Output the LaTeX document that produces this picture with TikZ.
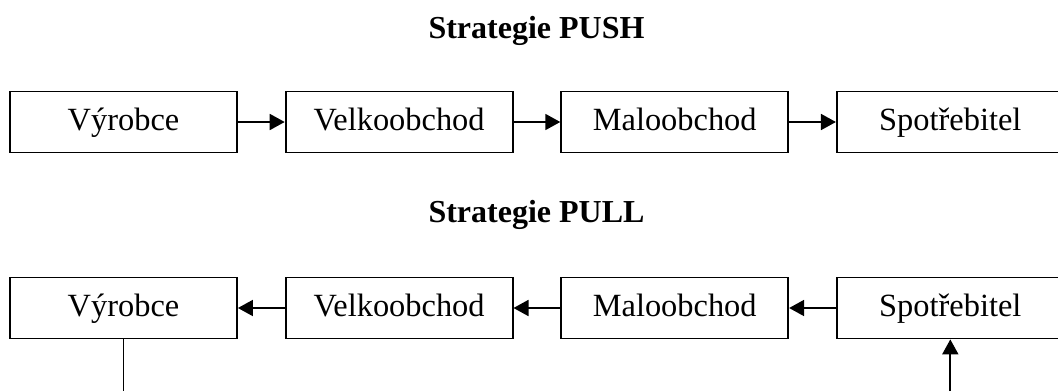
\documentclass[tikz,border=0pt]{standalone}
\usepackage{fontspec}
\setmainfont{Liberation Serif}
\usetikzlibrary{arrows.meta, positioning}
\tikzstyle{arrow} = [line width=0.9pt, -{Triangle[length=7.5pt,width=8pt]}]
\tikzstyle{stage} = [rectangle, minimum width=113.5pt, minimum height=30.5pt, text height=12pt, text depth=4pt, text centered, draw=black, line width=0.9pt, font=\fontsize{16.2}{19}\selectfont]
\tikzstyle{heading} = [font=\fontsize{16}{19}\selectfont\bfseries, anchor=base]

\begin{document}
\begin{tikzpicture}[x=0.5pt, y=-0.5pt, node distance=23.4pt]
    \useasboundingbox (0,0) rectangle (1058,391);

    % Strategie PUSH
    \node[heading] (push) at (536.5,38) {Strategie PUSH};
    \node[stage] (vyr1) at (123.5,122) {Výrobce};
    \node[stage, right=of vyr1] (velk1) {Velkoobchod};
    \node[stage, right=of velk1] (malo1) {Maloobchod};
    \node[stage, right=of malo1] (spot1) {Spotřebitel};

    \draw[arrow] (vyr1) -- (velk1);
    \draw[arrow] (velk1) -- (malo1);
    \draw[arrow] (malo1) -- (spot1);

    % Strategie PULL
    \node[heading] (pull) at (536.5,222) {Strategie PULL};
    \node[stage] (vyr2) at (123.5,308) {Výrobce};
    \node[stage, right=of vyr2] (velk2) {Velkoobchod};
    \node[stage, right=of velk2] (malo2) {Maloobchod};
    \node[stage, right=of malo2] (spot2) {Spotřebitel};

    \draw[arrow] (spot2) -- (malo2);
    \draw[arrow] (malo2) -- (velk2);
    \draw[arrow] (velk2) -- (vyr2);

    % Lines leaving the picture
    \coordinate (down) at (vyr2.south |- 0,391);
    \coordinate (up) at (spot2.south |- 0,391);
    \draw[line width=0.9pt] (vyr2) -- (down);
    \draw[arrow] (up) -- (spot2);

\end{tikzpicture}
\end{document}
